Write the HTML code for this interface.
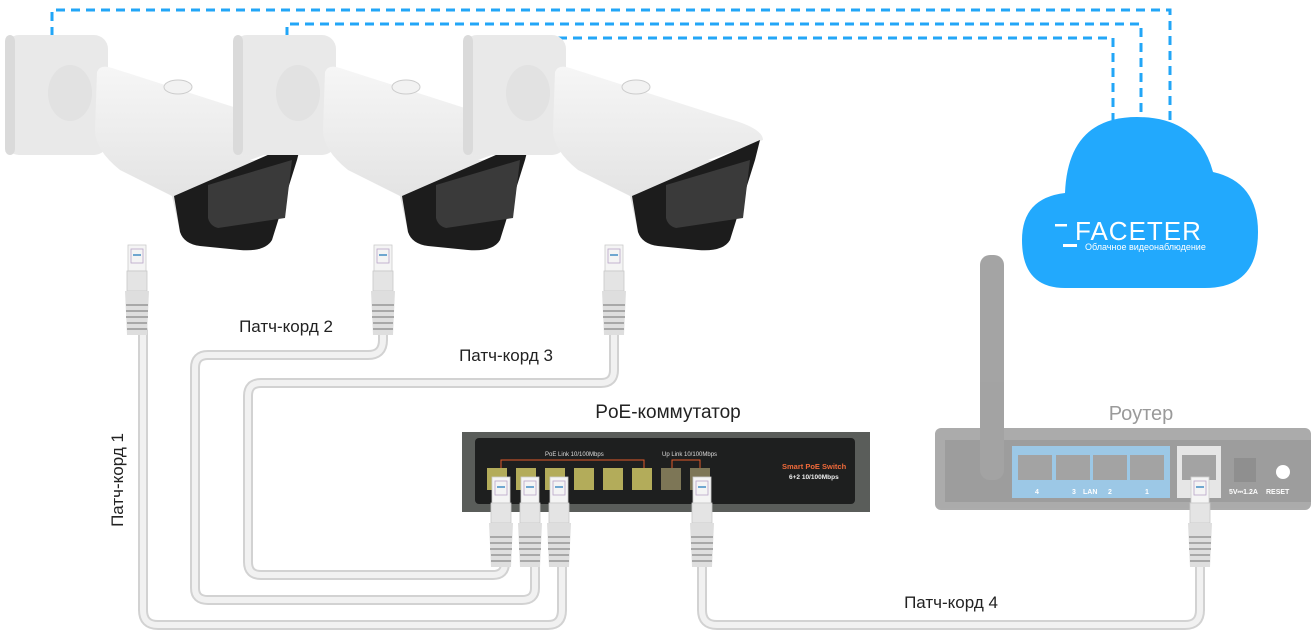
<!DOCTYPE html>
<html><head><meta charset="utf-8"><style>
html,body{margin:0;padding:0;background:#fff;width:1311px;height:634px;overflow:hidden}
svg{display:block}
text{font-family:"Liberation Sans","Noto Sans CJK SC",sans-serif}
</style></head><body>
<svg width="1311" height="634" viewBox="0 0 1311 634" xmlns="http://www.w3.org/2000/svg">
<defs>
<linearGradient id="body" x1="0" y1="0" x2="0" y2="1"><stop offset="0" stop-color="#f6f6f6"/><stop offset="1" stop-color="#dcdcdc"/></linearGradient>
<g id="cam">
  <rect x="5" y="35" width="103" height="120" rx="14" fill="#e9e9e9"/>
  <rect x="5" y="35" width="10" height="120" rx="6" fill="#dadada"/>
  <ellipse cx="70" cy="93" rx="22" ry="28" fill="#e2e2e2"/>
  <path d="M97 72 Q100 64 112 68 L268 118 Q305 128 305 140 L250 160 L290 160 L272 240 Q265 252 240 250 L205 246 Q185 244 180 232 L172 196 L120 170 Q95 150 95 130 Z" fill="url(#body)"/>
  <path d="M174 196 L302 140 L297 160 L272 240 Q265 252 240 250 L200 246 Q184 244 180 232 Z" fill="#1c1c1c"/>
  <path d="M208 185 L292 160 L285 218 L218 228 Q210 226 208 218 Z" fill="#3a3a3a"/>
  <ellipse cx="178" cy="87" rx="14" ry="7" fill="#f2f2f2" stroke="#ccc"/>
</g>
<g id="plug">
  <rect x="-9" y="0" width="18" height="26" fill="#f4f4f4" stroke="#ccc" stroke-width="0.8"/>
  <rect x="-6" y="4" width="12" height="14" fill="none" stroke="#b9a6c8" stroke-width="0.8"/>
  <line x1="-4" y1="10" x2="4" y2="10" stroke="#6fa7d0" stroke-width="2"/>
  <rect x="-10" y="26" width="20" height="20" fill="#e4e4e4" stroke="#c8c8c8" stroke-width="0.8"/>
  <path d="M-12 46 L12 46 L10 90 L-10 90 Z" fill="#dedede"/>
  <g stroke="#a8a8a8" stroke-width="2"><line x1="-11" y1="60" x2="11" y2="60"/><line x1="-11" y1="66" x2="11" y2="66"/><line x1="-11" y1="72" x2="11" y2="72"/><line x1="-10" y1="78" x2="10" y2="78"/><line x1="-10" y1="84" x2="10" y2="84"/></g>
</g>
</defs>

<g fill="none" stroke="#22a6f7" stroke-width="3" stroke-dasharray="9,6">
  <path d="M52 36 L52 10 L1170 10 L1170 122"/>
  <path d="M287 36 L287 24 L1141 24 L1141 116"/>
  <path d="M515 36 L515 38 L1113 38 L1113 120"/>
</g>

<use href="#cam"/>
<use href="#cam" x="228"/>
<use href="#cam" x="458"/>

<path d="M1065 193 Q1068 117 1137 117 Q1198 117 1213 172 Q1258 182 1258 232 Q1258 288 1205 288 L1065 288 Q1022 288 1022 240 Q1022 198 1065 193 Z" fill="#22a9fd"/>
<text x="1075" y="240" font-size="26" fill="#fff" letter-spacing="1">FACETER</text>
<rect x="1055" y="224" width="12" height="2.5" fill="#fff"/><rect x="1063" y="244" width="14" height="3" fill="#fff"/>
<text x="1085" y="250" font-size="9" fill="#fff">Облачное видеонаблюдение</text>

<g fill="none" stroke-linejoin="round" stroke-linecap="round">
  <g stroke="#d2d2d2" stroke-width="10">
    <path d="M143 330 L143 610 Q143 625 158 625 L548 625 Q562 625 562 610 L562 565"/>
    <path d="M383 330 L383 340 Q383 355 368 355 L208 355 Q195 355 195 368 L195 588 Q195 600 208 600 L522 600 Q535 600 535 588 L535 565"/>
    <path d="M614 330 L614 370 Q614 383 601 383 L261 383 Q248 383 248 396 L248 562 Q248 575 261 575 L493 575 Q505 575 505 563 L505 565"/>
    <path d="M702 565 L702 610 Q702 625 717 625 L1185 625 Q1200 625 1200 610 L1200 565"/>
  </g>
  <g stroke="#f1f1f1" stroke-width="6">
    <path d="M143 330 L143 610 Q143 625 158 625 L548 625 Q562 625 562 610 L562 565"/>
    <path d="M383 330 L383 340 Q383 355 368 355 L208 355 Q195 355 195 368 L195 588 Q195 600 208 600 L522 600 Q535 600 535 588 L535 565"/>
    <path d="M614 330 L614 370 Q614 383 601 383 L261 383 Q248 383 248 396 L248 562 Q248 575 261 575 L493 575 Q505 575 505 563 L505 565"/>
    <path d="M702 565 L702 610 Q702 625 717 625 L1185 625 Q1200 625 1200 610 L1200 565"/>
  </g>
</g>

<rect x="462" y="432" width="408" height="80" fill="#5a5d5a"/>
<rect x="475" y="438" width="380" height="66" rx="4" fill="#1e1f1f"/>
<text x="545" y="456" font-size="6" fill="#ddd">PoE Link 10/100Mbps</text>
<text x="662" y="456" font-size="6" fill="#ddd">Up Link 10/100Mbps</text>
<path d="M501 468 L501 460 L644 460 L644 468 M672 468 L672 460 L700 460 L700 468" stroke="#e05a2a" fill="none" stroke-width="1"/>
<g fill="#b3ac5a">
  <rect x="487" y="468" width="20" height="22"/><rect x="516" y="468" width="20" height="22"/><rect x="545" y="468" width="20" height="22"/><rect x="574" y="468" width="20" height="22"/><rect x="603" y="468" width="20" height="22"/><rect x="632" y="468" width="20" height="22"/><rect x="661" y="468" width="20" height="22" fill="#7d7656"/><rect x="690" y="468" width="20" height="22" fill="#7d7656"/>
</g>
<text x="782" y="469" font-size="7.5" fill="#f06a3a" font-weight="bold">Smart PoE Switch</text>
<text x="789" y="479" font-size="6.5" fill="#eee" font-weight="bold">6+2 10/100Mbps</text>
<text x="668" y="418" font-size="19" fill="#222" text-anchor="middle">PoE-коммутатор</text>

<g opacity="0.5">
  <rect x="935" y="428" width="376" height="82" rx="6" fill="#5a5a5a"/>
  <rect x="945" y="440" width="366" height="62" fill="#3e3e3e"/>
  <rect x="980" y="255" width="24" height="225" rx="10" fill="#4a4a4a"/>
  <rect x="1012" y="446" width="158" height="52" fill="#3b92cf"/>
  <g fill="#4a4a4a"><rect x="1018" y="455" width="34" height="25"/><rect x="1056" y="455" width="34" height="25"/><rect x="1093" y="455" width="34" height="25"/><rect x="1130" y="455" width="34" height="25"/></g>
  <rect x="1177" y="446" width="44" height="52" fill="#cfcfcf"/>
  <rect x="1182" y="455" width="34" height="25" fill="#4a4a4a"/>
  <rect x="1234" y="458" width="22" height="24" fill="#222"/>
  <circle cx="1283" cy="472" r="7" fill="#fff"/>
  <g font-size="7" fill="#fff" font-weight="bold">
    <text x="1035" y="494">4</text><text x="1072" y="494">3</text><text x="1083" y="494">LAN</text><text x="1108" y="494">2</text><text x="1145" y="494">1</text>
    <text x="1229" y="494">5V⎓1.2A</text><text x="1266" y="494">RESET</text>
  </g>
</g>
<text x="1141" y="420" font-size="20" fill="#9a9a9a" text-anchor="middle">Роутер</text>

<use href="#plug" x="137" y="245"/>
<use href="#plug" x="383" y="245"/>
<use href="#plug" x="614" y="245"/>
<use href="#plug" x="501" y="477"/>
<use href="#plug" x="530" y="477"/>
<use href="#plug" x="559" y="477"/>
<use href="#plug" x="702" y="477"/>
<use href="#plug" x="1200" y="477"/>

<text x="286" y="332" font-size="17" fill="#222" text-anchor="middle">Патч-корд 2</text>
<text x="506" y="361" font-size="17" fill="#222" text-anchor="middle">Патч-корд 3</text>
<text x="951" y="608" font-size="17" fill="#222" text-anchor="middle">Патч-корд 4</text>
<text transform="translate(123,480) rotate(-90)" font-size="17" fill="#222" text-anchor="middle">Патч-корд 1</text>
</svg>
</body></html>
